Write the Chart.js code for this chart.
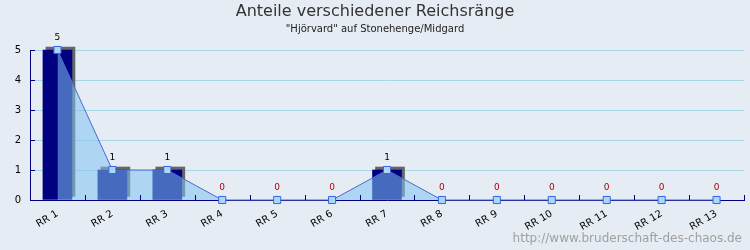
<!DOCTYPE html>
<html>
<head>
<meta charset="utf-8">
<script src="https://cdn.jsdelivr.net/npm/chart.js@4"></script>
<style>
  body { margin: 0; background: #e6ecf3; }
  #wrap { width: 750px; height: 250px; position: relative; }
</style>
</head>
<body>
<div id="wrap"><canvas id="rankChart"></canvas></div>
<script>
const categories = ['RR 1', 'RR 2', 'RR 3', 'RR 4', 'RR 5', 'RR 6', 'RR 7', 'RR 8', 'RR 9', 'RR 10', 'RR 11', 'RR 12', 'RR 13'];
const counts = [5, 1, 1, 0, 0, 0, 1, 0, 0, 0, 0, 0, 0];
const yTicks = [0, 1, 2, 3, 4, 5];

const titleText = 'Anteile verschiedener Reichsränge';
const subtitleText = '"Hjörvard" auf Stonehenge/Midgard';
const watermark = 'http://www.bruderschaft-des-chaos.de';

const FONT = "'DejaVu Sans', Verdana, sans-serif";
const NAVY = '#000080';

// 3d-ish gray shadow behind the bars
const barShadow = {
    id: 'barShadow',
    beforeDatasetDraw(chart, args) {
        if (args.index !== 0) return;
        const ctx = chart.ctx;
        ctx.save();
        ctx.shadowColor = '#666666';
        ctx.shadowOffsetX = 3;
        ctx.shadowOffsetY = -3;
        ctx.shadowBlur = 0;
    },
    afterDatasetDraw(chart, args) {
        if (args.index !== 0) return;
        chart.ctx.restore();
    }
};

// titles, value labels, inward tick marks, watermark
const decorations = {
    id: 'decorations',
    afterDatasetsDraw(chart) {
        const ctx = chart.ctx;
        const area = chart.chartArea;
        const x = chart.scales.x, y = chart.scales.y;
        ctx.save();

        // tick marks pointing inward
        ctx.strokeStyle = NAVY;
        ctx.lineWidth = 1;
        ctx.beginPath();
        yTicks.forEach(v => {
            const py = Math.round(y.getPixelForValue(v)) + 0.5;
            ctx.moveTo(area.left, py);
            ctx.lineTo(area.left + 5, py);
        });
        for (let i = 1; i <= categories.length; i++) {
            const px = Math.round(x.getPixelForValue(i - 0.5)) + 0.5;
            ctx.moveTo(px, area.bottom);
            ctx.lineTo(px, area.bottom - 5);
        }
        ctx.stroke();

        // value labels above points
        const meta = chart.getDatasetMeta(1);
        ctx.font = '9px ' + FONT;
        ctx.textAlign = 'center';
        ctx.textBaseline = 'middle';
        meta.data.forEach((pt, i) => {
            ctx.fillStyle = counts[i] > 0 ? '#000000' : '#b00000';
            ctx.fillText(String(counts[i]), pt.x, pt.y - 12);
        });

        // titles
        ctx.fillStyle = '#333333';
        ctx.font = '16px ' + FONT;
        ctx.fillText(titleText, 375, 12);
        ctx.fillStyle = '#222222';
        ctx.font = '10px ' + FONT;
        ctx.fillText(subtitleText, 375, 29);

        // watermark
        ctx.fillStyle = '#a0a0a0';
        ctx.font = '12px ' + FONT;
        ctx.textAlign = 'right';
        ctx.fillText(watermark, 742, 239);
        ctx.restore();
    }
};

new Chart(document.getElementById('rankChart'), {
    type: 'bar',
    data: {
        labels: categories,
        datasets: [
            {
                type: 'bar',
                // zero counts get no bar (and no shadow)
                data: counts.map(v => (v > 0 ? v : null)),
                backgroundColor: NAVY,
                barThickness: 29,
                clip: false,
                order: 2
            },
            {
                type: 'line',
                data: counts,
                borderColor: '#4a6ad0',
                borderWidth: 1,
                backgroundColor: 'rgba(128, 194, 240, 0.55)',
                fill: 'origin',
                tension: 0,
                clip: false,
                pointStyle: 'rect',
                pointRadius: 5,
                pointBackgroundColor: '#acd6f6',
                pointBorderColor: '#3a62e8',
                pointBorderWidth: 1,
                order: 1
            }
        ]
    },
    options: {
        responsive: true,
        maintainAspectRatio: false,
        animation: false,
        layout: { padding: { top: 50, right: 5, left: 0, bottom: 0 } },
        plugins: {
            legend: { display: false },
            tooltip: { enabled: false }
        },
        scales: {
            x: {
                offset: true,
                afterFit: s => { s.height = 50; },
                grid: { display: true, drawOnChartArea: false, drawTicks: false },
                border: { color: NAVY, width: 1 },
                ticks: {
                    color: '#000000',
                    font: { family: FONT, size: 10 },
                    minRotation: 30,
                    maxRotation: 30,
                    padding: 8
                }
            },
            y: {
                min: 0,
                max: 5,
                afterFit: s => { s.width = 30; },
                afterBuildTicks: s => { s.ticks = yTicks.map(v => ({ value: v })); },
                grid: { color: '#a6d8e8', drawTicks: false },
                border: { color: NAVY, width: 1 },
                ticks: {
                    color: '#000000',
                    font: { family: FONT, size: 10 },
                    padding: 9
                }
            }
        }
    },
    plugins: [barShadow, decorations]
});
</script>
</body>
</html>
